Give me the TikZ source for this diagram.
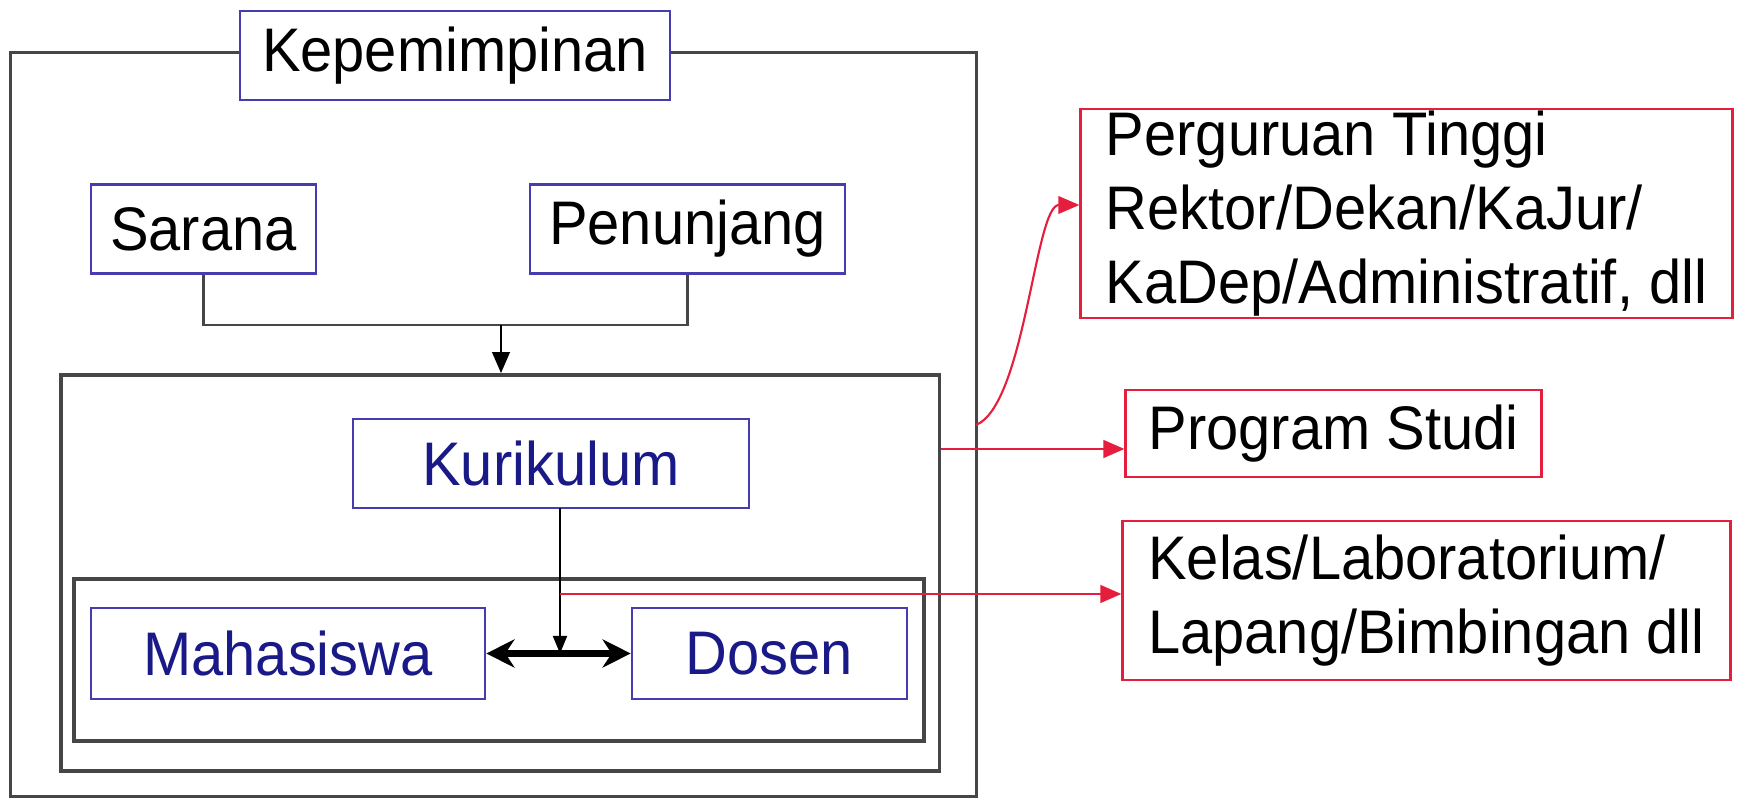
\documentclass[tikz,border=0pt]{standalone}
\usepackage{fontspec}
\setmainfont{Liberation Sans}[FakeStretch=0.94]
\usepackage{tikz}
\usetikzlibrary{arrows.meta}

\begin{document}
\begin{tikzpicture}[x=0.01cm,y=-0.01cm,font=\fontsize{17.5}{21}\selectfont,
  wadah/.style={draw=wadahColor,line width=1pt,inner sep=0pt},
  kotak/.style={draw=kotakColor,line width=0.7pt,fill=white,inner sep=0pt,minimum height=0.89cm},
  merah/.style={draw=merahColor,line width=0.8pt,fill=white,inner sep=0pt},
  biru/.style={text=teksColor}]
\definecolor{wadahColor}{RGB}{70,70,70}
\definecolor{kotakColor}{RGB}{70,60,175}
\definecolor{merahColor}{RGB}{228,30,60}
\definecolor{teksColor}{RGB}{25,25,135}
\useasboundingbox (0,0) rectangle (1739,798);
% wadah luar dan dalam
\node[wadah,line width=0.8pt,minimum width=9.65cm,minimum height=7.43cm] (luar) at (493.5,424.5) {};
\node[wadah,minimum width=8.78cm,minimum height=3.96cm] (tengah) at (500,573) {};
\node[wadah,minimum width=8.50cm,minimum height=1.62cm] (dalam) at (499,660) {};
% kotak
\node[kotak,minimum width=4.30cm] (pimpin) at (455,55.5) {Kepemimpinan};
\node[kotak,minimum width=2.25cm] (sarana) at (203.5,229) {Sarana};
\node[kotak,minimum width=3.15cm] (tunjang) at (687.5,229) {Penunjang};
\node[kotak,biru,minimum width=3.96cm] (kurikulum) at (551,463.5) {Kurikulum};
\node[kotak,biru,minimum width=3.94cm,minimum height=0.91cm] (mhs) at (288,653.5) {Mahasiswa};
\node[kotak,biru,minimum width=2.75cm,minimum height=0.91cm] (dosen) at (769.5,653.5) {Dosen};
% kotak merah
\node[merah,minimum width=6.51cm,minimum height=2.09cm,align=left] (pt) at (1406.5,213.5) {Perguruan Tinggi\\Rektor/Dekan/KaJur/\\KaDep/Administratif, dll};
\node[merah,minimum width=4.15cm,minimum height=0.87cm] (prodi) at (1333.5,433.5) {Program Studi};
\node[merah,minimum width=6.07cm,minimum height=1.59cm,align=left] (kelas) at (1426.5,600.5) {Kelas/Laboratorium/\\Lapang/Bimbingan dll};
% garis
\coordinate (gabung) at (501,325);
\draw[line width=0.7pt,color=wadahColor] (sarana.south) |- (gabung) -| (tunjang.south);
\draw[line width=0.7pt,-{Triangle[length=6pt,width=5pt]}] (gabung) -- (gabung |- tengah.north);
\draw[line width=1.8pt,{Stealth[length=8pt,width=8pt]}-{Stealth[length=8pt,width=8pt]}] (mhs.east) -- (dosen.west);
\coordinate (turun) at (560,508);
\draw[line width=0.5pt,-{Triangle[length=5pt,width=4pt]}] (turun) -- (turun |- mhs.east);
\coordinate (cabang) at (560,594);
\draw[line width=0.8pt,color=merahColor,-{Triangle[length=6pt,width=5pt]}] (cabang) -- (cabang -| kelas.west);
\draw[line width=0.8pt,color=merahColor,-{Triangle[length=6pt,width=5pt]}] (tengah.east |- 0,449) -- (prodi.west |- 0,449);
\coordinate (lengkung) at (976,425);
\draw[line width=0.6pt,color=merahColor,-{Triangle[length=6pt,width=5pt]}] (lengkung) .. controls (1025,405) and (1035,205) .. (pt.west |- 0,205);
\end{tikzpicture}
\end{document}
